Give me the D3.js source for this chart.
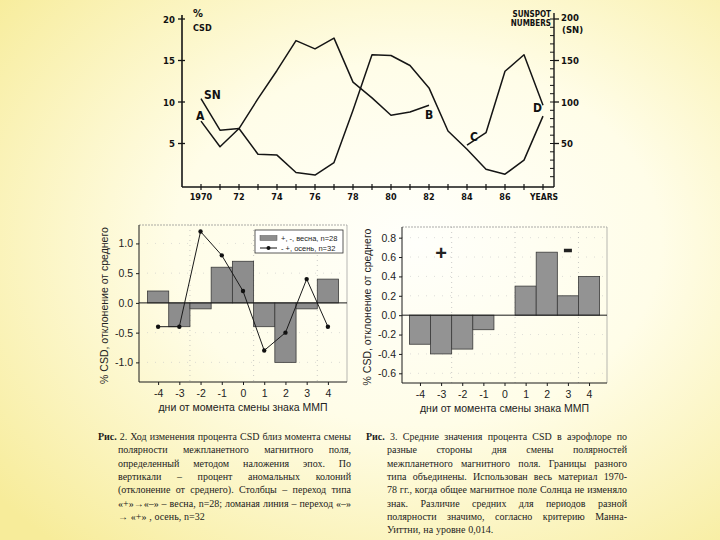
<!DOCTYPE html>
<html><head><meta charset="utf-8">
<script src="https://cdn.jsdelivr.net/npm/d3@7"></script>
<style>body{margin:0;background:#fff}svg{display:block}</style>
</head><body>
<svg id="c" width="720" height="540"></svg>
<script>
// ---------------- DATA ----------------
// Fig.1 (top): % CSD and sunspot numbers by year
const years = [1970,1971,1972,1973,1974,1975,1976,1977,1978,1979,1980,1981,1982,1983,1984,1985,1986,1987,1988];
const sunspotNumbers = [104,66,68,37,36,15,12,27,90,157,156,144,117,65,43,19,13,30,83];
const csdYearsAB = [1970,1971,1972,1973,1974,1975,1976,1977,1978,1979,1980,1981,1982];
const csdAB = [7.7,4.6,6.8,10.4,13.8,17.4,16.4,17.7,12.4,10.5,8.4,8.8,9.6];
const csdYearsCD = [1984,1985,1986,1987,1988];
const csdCD = [4.8,6.3,13.7,15.7,9.6];
const yearTickLabels = ["1970","72","74","76","78","80","82","84","86","YEARS"];
const yearTickValues = [1970,1972,1974,1976,1978,1980,1982,1984,1986,1988];
const csdTicks = [5,10,15,20];
const snTicks = [50,100,150,200];

// Fig.2 (bottom left): bars = spring "+ -", line = autumn "- +"
const days = [-4,-3,-2,-1,0,1,2,3,4];
const springBars = [0.2,-0.4,-0.1,0.6,0.7,-0.4,-1.0,-0.1,0.4];
const autumnLine = [-0.4,-0.4,1.2,0.8,0.2,-0.8,-0.5,0.4,-0.4];
const fig2Ticks = [-1.0,-0.5,0.0,0.5,1.0];
const fig2Legend = ["+, -, весна, n=28", "- +, осень, n=32"];

// Fig.3 (bottom right)
const fig3Days = [-4,-3,-2,-1,1,2,3,4];
const fig3Bars = [-0.3,-0.4,-0.35,-0.15,0.3,0.65,0.2,0.4];
const fig3Ticks = [-0.6,-0.4,-0.2,0.0,0.2,0.4,0.6,0.8];

const yTitle = "% CSD, отклонение от среднего";
const xTitle = "дни от момента смены знака ММП";

const caption2 = [
  "Рис. 2. Ход изменения процента CSD близ момента смены",
  "полярности межпланетного магнитного поля,",
  "определенный методом наложения эпох. По",
  "вертикали – процент аномальных колоний",
  "(отклонение от среднего). Столбцы – переход типа",
  "«+»→«–» – весна, n=28; ломаная линия – переход «–»",
  "→ «+» , осень, n=32"
];
const caption3 = [
  "Рис. 3. Средние значения процента CSD в аэрофлоре по",
  "разные стороны дня смены полярностей",
  "межпланетного магнитного поля. Границы разного",
  "типа объединены. Использован весь материал 1970-",
  "78 гг., когда общее магнитное поле Солнца не изменяло",
  "знак. Различие средних для периодов разной",
  "полярности значимо, согласно критерию Манна-",
  "Уиттни, на уровне 0,014."
];

// ---------------- DRAW ----------------
const svg = d3.select("#c");
const defs = svg.append("defs");
const rg = defs.append("radialGradient").attr("id","bg")
  .attr("cx","58%").attr("cy","45%").attr("r","75%");
rg.append("stop").attr("offset","0%").attr("stop-color","#fffffb");
rg.append("stop").attr("offset","45%").attr("stop-color","#fffde8");
rg.append("stop").attr("offset","100%").attr("stop-color","#f7ec9a");
svg.append("rect").attr("width",720).attr("height",540).attr("fill","url(#bg)");

// ===== Fig 1 =====
const hand = "'DejaVu Sans Condensed','DejaVu Sans',sans-serif";
const f1 = svg.append("g").attr("font-family",hand).attr("fill","#111");
const xY = d3.scaleLinear().domain([1970,1988]).range([201,543]);
const yC = d3.scaleLinear().domain([0,20]).range([185,19]);
const yS = d3.scaleLinear().domain([0,200]).range([185,19]);
const axL = 182, axR = 554, axB = 187;
const ink = "#151515";
f1.append("line").attr("x1",axL).attr("x2",axL).attr("y1",15).attr("y2",axB).attr("stroke",ink).attr("stroke-width",1.6);
f1.append("line").attr("x1",axL).attr("x2",axR).attr("y1",axB).attr("y2",axB).attr("stroke",ink).attr("stroke-width",1.6);
f1.append("line").attr("x1",axR).attr("x2",axR).attr("y1",13).attr("y2",axB).attr("stroke",ink).attr("stroke-width",1.4);
// left ticks
f1.selectAll(".lt").data(csdTicks).join("line").attr("x1",axL-4).attr("x2",axL+3)
  .attr("y1",d=>yC(d)).attr("y2",d=>yC(d)).attr("stroke",ink).attr("stroke-width",1.3);
f1.selectAll(".ll").data(csdTicks).join("text").attr("x",axL-7).attr("y",d=>yC(d)+3.5)
  .attr("text-anchor","end").attr("font-size",9.5).attr("font-weight","bold").text(d=>d);
// right ticks (every 10)
const snMinor = d3.range(10,201,10);
f1.selectAll(".rt").data(snMinor).join("line").attr("x1",axR-4).attr("x2",axR)
  .attr("y1",d=>yS(d)).attr("y2",d=>yS(d)).attr("stroke",ink).attr("stroke-width",1);
f1.selectAll(".rM").data(snTicks).join("line").attr("x1",axR).attr("x2",axR+5)
  .attr("y1",d=>yS(d)).attr("y2",d=>yS(d)).attr("stroke",ink).attr("stroke-width",1.3);
f1.selectAll(".rl").data(snTicks).join("text").attr("x",axR+7).attr("y",d=>yS(d)+(d===200?1.5:3.5))
  .attr("font-size",9.5).attr("font-weight","bold").text(d=>d);
f1.append("text").attr("x",axR+8).attr("y",33).attr("font-size",9.5).attr("font-weight","bold").text("(SN)");
f1.append("text").attr("x",axR-3).attr("y",17).attr("text-anchor","end").attr("font-size",8).attr("font-weight","bold").text("SUNSPOT");
f1.append("text").attr("x",axR-3).attr("y",26).attr("text-anchor","end").attr("font-size",8).attr("font-weight","bold").text("NUMBERS");
f1.append("text").attr("x",193).attr("y",17).attr("font-size",11).attr("font-weight","bold").text("%");
f1.append("text").attr("x",193).attr("y",31).attr("font-size",9).attr("font-weight","bold").text("CSD");
// x ticks
f1.selectAll(".xt").data(years).join("line").attr("x1",d=>xY(d)).attr("x2",d=>xY(d))
  .attr("y1",axB-3).attr("y2",axB+3).attr("stroke",ink).attr("stroke-width",1.2);
f1.selectAll(".xl").data(yearTickValues).join("text")
  .attr("x",(d,i)=>xY(d)+(i===yearTickValues.length-1?1:0)).attr("y",200)
  .attr("text-anchor","middle").attr("font-size",(d,i)=>i===yearTickValues.length-1?8.5:9)
  .attr("font-weight","bold").text((d,i)=>yearTickLabels[i]);
// curves
const lineS = d3.line().x(d=>xY(d[0])).y(d=>yS(d[1]));
const lineC = d3.line().x(d=>xY(d[0])).y(d=>yC(d[1]));
f1.append("path").attr("d",lineS(years.map((y,i)=>[y,sunspotNumbers[i]]))).attr("fill","none").attr("stroke",ink).attr("stroke-width",1.5).attr("stroke-linejoin","round");
f1.append("path").attr("d",lineC(csdYearsAB.map((y,i)=>[y,csdAB[i]]))).attr("fill","none").attr("stroke",ink).attr("stroke-width",1.5).attr("stroke-linejoin","round");
f1.append("path").attr("d",lineC(csdYearsCD.map((y,i)=>[y,csdCD[i]]))).attr("fill","none").attr("stroke",ink).attr("stroke-width",1.5).attr("stroke-linejoin","round");
// curve labels
const lab = (t,x,y)=>f1.append("text").attr("x",x).attr("y",y).attr("font-size",12).attr("font-weight","bold").text(t);
lab("SN",xY(1970)+3,yS(sunspotNumbers[0])+0);
lab("A",xY(1970)-5,yC(csdAB[0])-1);
lab("B",xY(1982)-4,yC(csdAB[12])+14);
lab("C",xY(1984)+3,yC(csdCD[0])-4);
lab("D",xY(1988)-10,yC(csdCD[4])+7);

// ===== helper for bar charts =====
const sans = "'Liberation Sans',Arial,sans-serif";
const fmt = d => d.toFixed(1);
function panel(g, o){
  const x = d3.scaleLinear().domain(o.xd).range([o.l,o.r]);
  const y = d3.scaleLinear().domain(o.yd).range([o.b,o.t]);
  // dotted grid
  g.selectAll(".gv").data([-2.5,0.5,3.5]).join("line").attr("x1",d=>x(d)).attr("x2",d=>x(d))
    .attr("y1",o.t).attr("y2",o.b).attr("stroke","#b5b5b5").attr("stroke-width",0.7).attr("stroke-dasharray","1,4");
  g.selectAll(".gh").data(o.ticks.filter(t=>t!==0)).join("line").attr("x1",o.l).attr("x2",o.r)
    .attr("y1",d=>y(d)).attr("y2",d=>y(d)).attr("stroke","#c8c8c8").attr("stroke-width",0.6).attr("stroke-dasharray","1,7");
  // frame top/right light
  g.append("line").attr("x1",o.l).attr("x2",o.r).attr("y1",o.t).attr("y2",o.t).attr("stroke","#888").attr("stroke-width",0.7).attr("stroke-dasharray","2,1");
  g.append("line").attr("x1",o.r).attr("x2",o.r).attr("y1",o.t).attr("y2",o.b).attr("stroke","#9a9a9a").attr("stroke-width",0.7);
  // bars
  const w = x(0.5)-x(-0.5);
  g.selectAll(".bar").data(o.bx.map((d,i)=>[d,o.bv[i]])).join("rect")
    .attr("x",d=>x(d[0]-0.5)).attr("width",w)
    .attr("y",d=>y(Math.max(0,d[1]))).attr("height",d=>Math.abs(y(d[1])-y(0)))
    .attr("fill",o.fill).attr("stroke","#3a3a3a").attr("stroke-width",0.8);
  // zero line
  g.append("line").attr("x1",o.l).attr("x2",o.r).attr("y1",y(0)).attr("y2",y(0)).attr("stroke","#1a1a1a").attr("stroke-width",1);
  // axes
  const ya = g.append("g").attr("transform",`translate(${o.l},0)`)
    .call(d3.axisLeft(y).tickValues(o.ticks).tickFormat(fmt).tickSize(3).tickPadding(3));
  const xa = g.append("g").attr("transform",`translate(0,${o.b})`)
    .call(d3.axisBottom(x).tickValues(days).tickFormat(d=>String(d)).tickSize(3).tickPadding(5));
  [ya,xa].forEach(a=>{
    a.select(".domain").attr("stroke","#1a1a1a").attr("stroke-width",1);
    a.selectAll(".tick line").attr("stroke","#1a1a1a");
    a.selectAll("text").attr("font-family",sans).attr("font-size",10.5).attr("fill","#222");
  });
  ya.select(".domain").attr("d",`M0,${o.t}V${o.b}`);
  xa.select(".domain").attr("d",`M${o.l},0H${o.r}`);
  g.append("text").attr("transform",`translate(${o.l-31},${(o.t+o.b)/2+2}) rotate(-90)`)
    .attr("text-anchor","middle").attr("font-family",sans).attr("font-size",10.5).attr("fill","#222").text(yTitle);
  g.append("text").attr("x",x(0)).attr("y",o.b+29).attr("text-anchor","middle")
    .attr("font-family",sans).attr("font-size",10.5).attr("fill","#222").text(xTitle);
  return {x,y};
}

// ===== Fig 2 =====
const g2 = svg.append("g");
const p2 = panel(g2,{l:139,r:347,t:225,b:382,xd:[-4.9,4.9],yd:[-1.33,1.31],ticks:fig2Ticks,
  bx:days,bv:springBars,fill:"#8d8d8d"});
g2.append("path").attr("d",d3.line().x((d,i)=>p2.x(days[i])).y(d=>p2.y(d))(autumnLine))
  .attr("fill","none").attr("stroke","#1a1a1a").attr("stroke-width",1);
g2.selectAll(".dot").data(autumnLine).join("circle").attr("cx",(d,i)=>p2.x(days[i])).attr("cy",d=>p2.y(d))
  .attr("r",2.2).attr("fill","#111");
// legend
const lg = g2.append("g");
lg.append("rect").attr("x",255).attr("y",230).attr("width",88).attr("height",23).attr("fill","#fff").attr("stroke","#333").attr("stroke-width",0.8);
lg.append("rect").attr("x",260).attr("y",235.5).attr("width",17).attr("height",5).attr("fill","#8d8d8d").attr("stroke","#555").attr("stroke-width",0.5);
lg.append("line").attr("x1",260).attr("x2",277).attr("y1",248).attr("y2",248).attr("stroke","#111");
lg.append("circle").attr("cx",268.5).attr("cy",248).attr("r",2).attr("fill","#111");
lg.selectAll(".lt").data(fig2Legend).join("text").attr("x",281).attr("y",(d,i)=>241+i*9.5)
  .attr("font-family",sans).attr("font-size",7.5).attr("fill","#222").text(d=>d);

// ===== Fig 3 =====
const g3 = svg.append("g");
const p3 = panel(g3,{l:402,r:607,t:227,b:383,xd:[-4.85,4.85],yd:[-0.70,0.91],ticks:fig3Ticks,
  bx:fig3Days,bv:fig3Bars,fill:"#939393"});
g3.append("text").attr("x",p3.x(-3)).attr("y",p3.y(0.64)+6.5).attr("text-anchor","middle")
  .attr("font-family",sans).attr("font-weight","bold").attr("font-size",20).attr("fill","#222").text("+");
g3.append("rect").attr("x",p3.x(3)-4).attr("y",p3.y(0.67)-1.5).attr("width",8).attr("height",3.5).attr("fill","#222");

// ===== Captions =====
const serif = "'Liberation Serif','Times New Roman',serif";
function caption(lines, x0, xi, x1, y0, lh, fs){
  const g = svg.append("g").attr("font-family",serif).attr("font-size",fs).attr("fill","#1c1c1c");
  lines.forEach((ln,li)=>{
    const words = ln.split(" ");
    const start = li===0 ? x0 : xi;
    const y = y0 + li*lh;
    const nodes = words.map((w,wi)=>{
      const t = g.append("text").attr("y",y).text(w);
      if(li===0 && wi===0) t.attr("font-weight","bold");
      return t;
    });
    const widths = nodes.map(n=>n.node().getComputedTextLength());
    const total = d3.sum(widths);
    const last = li===lines.length-1;
    let gap = last ? fs*0.28 : (x1-start-total)/Math.max(1,words.length-1);
    if(gap < 1.5) gap = 1.5;
    let cx = start;
    nodes.forEach((n,i)=>{ n.attr("x",cx); cx += widths[i]+gap; });
  });
}
caption(caption2, 98, 118, 351, 440, 13.3, 10);
caption(caption3, 366, 387, 627, 440, 13.3, 10);
</script>
</body></html>
